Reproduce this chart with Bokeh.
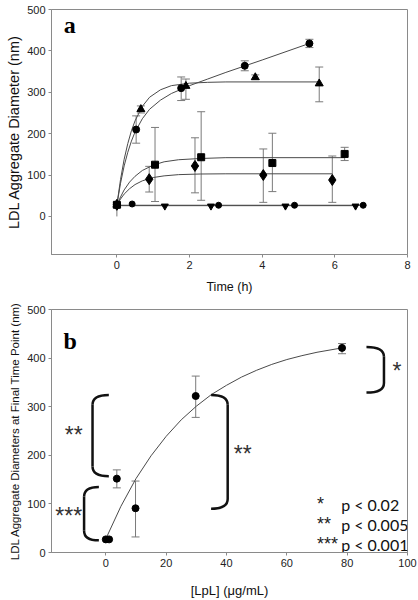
from bokeh.plotting import figure
from bokeh.layouts import column
from bokeh.models import ColumnDataSource, Whisker, FixedTicker, Label, Range1d, TeeHead
from bokeh.core.properties import value
from bokeh.embed import file_html
from bokeh.resources import INLINE

# ---------------- Panel a data (time course) ----------------
t_circ = [0, 0.53, 1.77, 3.52, 5.30]
y_circ = [28, 210, 310, 364, 418]
lo_circ = [0, 177, 280, 352, 408]
hi_circ = [28, 243, 337, 376, 428]

t_tri = [0, 0.66, 1.90, 3.81, 5.57]
y_tri = [28, 259, 315, 336, 321]
lo_tri = [28, 250, 283, 331, 277]
hi_tri = [28, 267, 332, 342, 361]

t_sq = [0, 1.05, 2.32, 4.28, 6.27]
y_sq = [28, 125, 143, 129, 151]
lo_sq = [28, 36, 39, 60, 135]
hi_sq = [28, 215, 253, 201, 167]

t_dia = [0, 0.89, 2.15, 4.03, 5.93]
y_dia = [28, 90, 122, 100, 88]
lo_dia = [28, 59, 57, 34, 34]
hi_dia = [28, 121, 190, 163, 146]

t_tdown = [0, 1.32, 2.59, 4.64, 6.57]
y_tdown = [28, 25, 25, 25, 25]

t_ctrl = [0, 0.42, 2.80, 4.89, 6.78]
y_ctrl = [28, 30, 27, 27, 27]

# fitted curves
fit_t_circ = [0, 0.1, 0.2, 0.3, 0.4, 0.5, 0.7, 0.9, 1.2, 1.5, 2.0, 2.5, 3.0, 4.0, 5.3]
fit_y_circ = [28, 80, 122, 155, 182, 204, 236, 259, 281, 297, 316, 332, 348, 378, 418]
fit_t_tri = [0, 0.1, 0.2, 0.3, 0.4, 0.5, 0.7, 0.9, 1.2, 1.5, 2.0, 2.5, 3.0, 5.57]
fit_y_tri = [28, 89, 138, 176, 207, 231, 266, 288, 306, 316, 322, 324, 325, 325]
fit_t_sq = [0, 0.1, 0.2, 0.35, 0.5, 0.7, 1.0, 1.3, 1.7, 2.3, 3.0, 6.27]
fit_y_sq = [28, 47, 64, 83, 97, 111, 124, 132, 137, 140, 142, 142]
fit_t_dia = [0, 0.1, 0.2, 0.35, 0.5, 0.7, 1.0, 1.3, 1.7, 2.3, 3.0, 5.93]
fit_y_dia = [28, 42, 54, 67, 77, 86, 94, 98, 101, 102.5, 103, 103]
fit_t_tdown = [0, 6.57]
fit_y_tdown = [26, 26]
fit_t_ctrl = [0, 6.78]
fit_y_ctrl = [27, 27]

xticks_a = [0, 2, 4, 6, 8]
yticks = [0, 100, 200, 300, 400, 500]

# ---------------- Panel b data (final time point) ----------------
lpl = [0, 1.1, 3.65, 9.85, 29.8, 78.3]
diam = [27, 27, 152, 91, 322, 421]
diam_lo = [27, 27, 133, 32, 278, 409]
diam_hi = [27, 27, 170, 147, 363, 430]

fit_lpl = [0, 5, 10, 15, 20, 25, 30, 35, 40, 45, 50, 55, 60, 65, 70, 78.3]
fit_diam = [28, 95, 152, 199, 239, 273, 301, 325, 344, 361, 375, 387, 397, 405, 412, 421]

xticks_b = [0, 20, 40, 60, 80, 100]

# significance brackets
br_xv = [92.2, -4.4, -7.2, 40.4]
br_xt = [86.4, 1.0, -2.3, 34.9]
br_top = [423, 324, 135, 324]
br_bot = [329, 157, 25, 90]
br_text = ["*", "**", "***", "**"]
br_tx = [96.5, -10.6, -12.3, 45.4]
br_ty = [381, 249, 83, 210]

leg_star = ["*", "**", "***"]
leg_p = ["p < 0.02", "p < 0.005", "p < 0.001"]
leg_y = [99, 58, 17]

AX = "#8a8a8a"
CURVE = "#4a4a4a"
ERR = "#7a7a7a"


def style(p, xticks, ylab_size, xlab_size):
    for ax in (p.xaxis[0], p.yaxis[0]):
        ax.axis_line_color = AX
        ax.major_tick_line_color = AX
        ax.major_tick_in = 0
        ax.major_tick_out = 3
        ax.minor_tick_line_color = None
        ax.major_label_text_font = "Liberation Sans"
        ax.major_label_text_font_size = "11px"
        ax.major_label_text_color = "#222222"
        ax.major_label_standoff = 3
        ax.axis_label_text_font = "Liberation Sans"
        ax.axis_label_text_font_style = "normal"
        ax.axis_label_text_color = "#111111"
    p.yaxis.axis_label_text_font_size = ylab_size
    p.xaxis.axis_label_text_font_size = xlab_size
    p.yaxis.axis_label_standoff = 3
    p.xaxis.axis_label_standoff = 9
    p.xaxis.ticker = FixedTicker(ticks=xticks)
    p.yaxis.ticker = FixedTicker(ticks=yticks)
    p.grid.visible = False
    p.outline_line_color = AX
    p.background_fill_color = "white"
    p.border_fill_color = "white"


def add_err(p, xs, ys_lo, ys_hi, skip_first=True):
    start = 1 if skip_first else 0
    src = ColumnDataSource(dict(x=xs[start:], lo=ys_lo[start:], hi=ys_hi[start:]))
    w = Whisker(source=src, base="x", lower="lo", upper="hi", line_color=ERR, line_width=1,
                lower_head=TeeHead(size=8, line_color=ERR, line_width=1),
                upper_head=TeeHead(size=8, line_color=ERR, line_width=1),
                level="underlay")
    p.add_layout(w)


# ---------------- Figure a ----------------
pa = figure(width=418, height=300, output_backend="svg", toolbar_location=None,
            x_range=Range1d(-1.8, 8), y_range=Range1d(-92, 500),
            min_border_left=51, min_border_right=11, min_border_top=9, min_border_bottom=46,
            x_axis_label="Time (h)", y_axis_label="LDL Aggregate Diameter (nm)")
style(pa, xticks_a, "14.5px", "12.5px")
pa.xaxis.axis_label_standoff = 8
pa.yaxis.axis_label_standoff = 2

for ft, fy in [(fit_t_circ, fit_y_circ), (fit_t_tri, fit_y_tri), (fit_t_sq, fit_y_sq),
               (fit_t_dia, fit_y_dia), (fit_t_tdown, fit_y_tdown), (fit_t_ctrl, fit_y_ctrl)]:
    pa.line(ft, fy, line_color=CURVE, line_width=1)

add_err(pa, t_circ, lo_circ, hi_circ)
add_err(pa, t_tri, lo_tri, hi_tri)
add_err(pa, t_sq, lo_sq, hi_sq)
add_err(pa, t_dia, lo_dia, hi_dia)
pa.segment(x0=t_circ[:1], y0=lo_circ[:1], x1=t_circ[:1], y1=hi_circ[:1], line_color=ERR, line_width=1)

pa.scatter(t_circ, y_circ, marker="circle", size=7, color="black")
pa.scatter(t_tri, y_tri, marker="triangle", size=8, color="black")
pa.scatter(t_sq, y_sq, marker="square", size=7, color="black")
pa.scatter(t_dia, y_dia, marker="diamond", size=11, color="black")
pa.scatter(t_tdown, y_tdown, marker="inverted_triangle", size=7, color="black")
pa.scatter(t_ctrl, y_ctrl, marker="circle", size=6, color="black")

pa.add_layout(Label(x=-1.46, y=432, text="a", text_font="Liberation Serif", text_font_style="bold",
                    text_font_size="24px", text_color="black"))

# ---------------- Figure b ----------------
pb = figure(width=418, height=300, output_backend="svg", toolbar_location=None,
            x_range=Range1d(-18, 100), y_range=Range1d(0, 500),
            min_border_left=51, min_border_right=11, min_border_top=9, min_border_bottom=46,
            x_axis_label="[LpL] (\u03bcg/mL)",
            y_axis_label="LDL Aggregate Diameters at Final Time Point (nm)")
style(pb, xticks_b, "11.5px", "13px")
pb.xaxis.axis_label_standoff = 13

pb.line(fit_lpl, fit_diam, line_color=CURVE, line_width=1)
add_err(pb, lpl[2:], diam_lo[2:], diam_hi[2:], skip_first=False)
pb.scatter(lpl, diam, marker="circle", size=7, color="black")

r = 20
pb.quadratic(x0=br_xt, y0=br_top, cx=br_xv, cy=br_top, x1=br_xv, y1=[v - r for v in br_top],
             line_color="#111111", line_width=2.5)
pb.segment(x0=br_xv, y0=[v - r for v in br_top], x1=br_xv, y1=[v + r for v in br_bot],
           line_color="#111111", line_width=2.5)
pb.quadratic(x0=br_xv, y0=[v + r for v in br_bot], cx=br_xv, cy=br_bot, x1=br_xt, y1=br_bot,
             line_color="#111111", line_width=2.5)

pb.text(x=br_tx, y=br_ty, text=br_text, text_font=value("Liberation Sans"), text_font_size="23px",
        text_align="center", text_baseline="alphabetic", y_offset=4, text_color="#333333")

pb.text(x=[70.0] * 3, y=leg_y, text=leg_star, text_font=value("Liberation Sans"), text_font_size="18px",
        text_align="left", text_baseline="alphabetic", text_color="#222222")
pb.text(x=[78] * 3, y=leg_y, text=leg_p, text_font=value("Lato"), text_font_size="16px",
        text_align="left", text_baseline="alphabetic", text_color="#111111")

pb.add_layout(Label(x=-14, y=408, text="b", text_font="Liberation Serif", text_font_style="bold",
                    text_font_size="24px", text_color="black"))

layout = column(pa, pb, spacing=0)
open("out.html", "w").write(file_html(layout, INLINE))
